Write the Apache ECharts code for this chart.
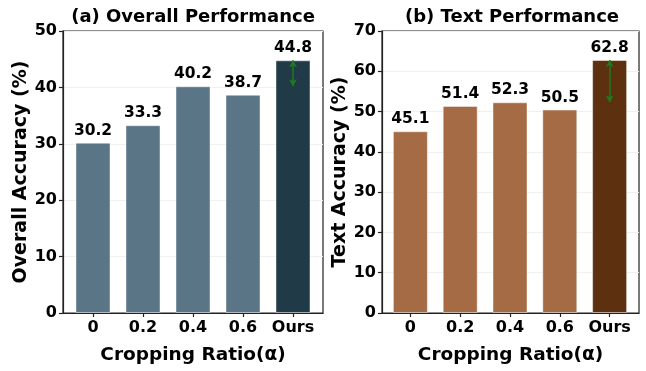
<!DOCTYPE html>
<html><head><meta charset="utf-8">
<script src="https://cdn.jsdelivr.net/npm/echarts@6/dist/echarts.min.js"></script>
<style>html,body{margin:0;padding:0;background:#fff}#c{width:646px;height:371px}</style>
</head><body><div id="c"></div>
<script>
const categories = ['0', '0.2', '0.4', '0.6', 'Ours'];
const overallValues = [30.2, 33.3, 40.2, 38.7, 44.8];
const textValues = [45.1, 51.4, 52.3, 50.5, 62.8];
const overallTicks = [0, 10, 20, 30, 40, 50];
const textTicks = [0, 10, 20, 30, 40, 50, 60, 70];
const overallArrow = [40.2, 44.8];
const textArrow = [52.3, 62.8];

const FF = 'DejaVu Sans';
const axisColor = '#222';
const catIdx = categories.map((c, i) => i);

function xAxisFor(gridIndex, min, max) {
  return {
    type: 'value', gridIndex, min, max,
    name: 'Cropping Ratio(α)', nameLocation: 'middle', nameGap: 33,
    nameTextStyle: { fontFamily: FF, fontWeight: 'bold', fontSize: 18.5, color: '#000' },
    axisLine: { show: true, onZero: false, lineStyle: { color: axisColor, width: 1.2 } },
    axisTick: { show: true, customValues: catIdx, length: 4, lineStyle: { color: axisColor, width: 1.2 } },
    axisLabel: { customValues: catIdx, margin: 7, fontFamily: FF, fontWeight: 'bold', fontSize: 16, color: '#000',
      formatter: v => categories[Math.round(v)] },
    splitLine: { show: false }
  };
}
function yAxisFor(gridIndex, ticks, name) {
  return {
    type: 'value', gridIndex, min: ticks[0], max: ticks[ticks.length - 1], interval: ticks[1] - ticks[0],
    name, nameLocation: 'middle', nameGap: 31,
    nameTextStyle: { fontFamily: FF, fontWeight: 'bold', fontSize: 19, color: '#000' },
    axisLine: { show: true, onZero: false, lineStyle: { color: axisColor, width: 1.2 } },
    axisTick: { show: true, length: 4, lineStyle: { color: axisColor, width: 1.2 } },
    axisLabel: { margin: 6, fontFamily: FF, fontWeight: 'bold', fontSize: 16, color: '#000' },
    splitLine: { show: true, lineStyle: { color: '#f0f0f0', width: 1 } }
  };
}
function barSeries(idx, values, base, best, arrow) {
  return {
    type: 'bar', xAxisIndex: idx, yAxisIndex: idx, barWidth: 35,
    data: values.map((v, i) => ({
      value: [i, v],
      itemStyle: { color: i === values.length - 1 ? best : base, borderColor: 'rgba(255,255,255,0.45)', borderWidth: 1 }
    })),
    label: { show: true, position: 'top', distance: 4, fontFamily: FF, fontWeight: 'bold', fontSize: 15.5, color: '#000',
      formatter: p => p.value[1].toFixed(1) },
    markLine: {
      silent: true, symbol: ['arrow', 'arrow'], symbolSize: [6, 7],
      label: { show: false },
      lineStyle: { color: '#1e7b1e', width: 1.5, type: 'solid' },
      data: [[{ coord: [values.length - 1, arrow[0]] }, { coord: [values.length - 1, arrow[1]] }]]
    }
  };
}

const chart = echarts.init(document.getElementById('c'), null, { renderer: 'canvas' });
chart.setOption({
  animation: false,
  title: [
    { text: '(a) Overall Performance', left: 188, top: 3, textAlign: 'center',
      textStyle: { fontFamily: FF, fontWeight: 'bold', fontSize: 18, color: '#000' } },
    { text: '(b) Text Performance', left: 507, top: 3, textAlign: 'center',
      textStyle: { fontFamily: FF, fontWeight: 'bold', fontSize: 18, color: '#000' } }
  ],
  grid: [
    { left: 63, right: 323, top: 31, bottom: 58, show: true, borderColor: axisColor, borderWidth: 1.2, backgroundColor: 'transparent' },
    { left: 382, right: 7, top: 31, bottom: 58, show: true, borderColor: axisColor, borderWidth: 1.2, backgroundColor: 'transparent' }
  ],
  xAxis: [xAxisFor(0, -0.6, 4.6), xAxisFor(1, -0.57, 4.59)],
  yAxis: [yAxisFor(0, overallTicks, 'Overall Accuracy (%)'), yAxisFor(1, textTicks, 'Text Accuracy (%)')],
  series: [
    barSeries(0, overallValues, '#5a7586', '#213a47', overallArrow),
    barSeries(1, textValues, '#a56b45', '#5d3110', textArrow)
  ]
});
</script></body></html>
